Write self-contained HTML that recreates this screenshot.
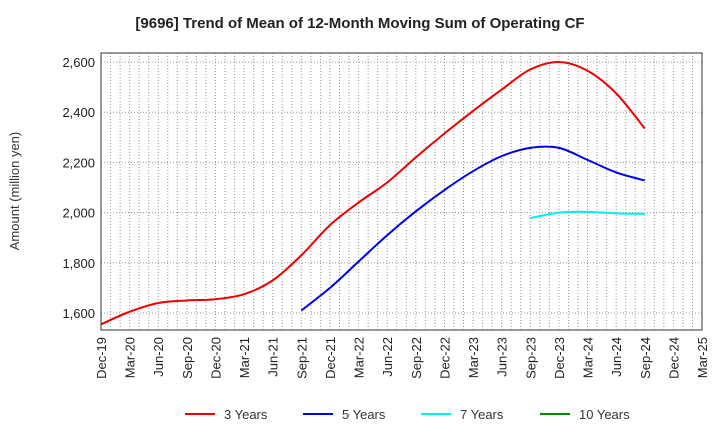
<!DOCTYPE html>
<html><head><meta charset="utf-8"><style>
body{margin:0;background:#fff;font-family:"Liberation Sans",sans-serif}
</style></head><body>
<svg id="c" width="720" height="440" viewBox="0 0 720 440" xmlns="http://www.w3.org/2000/svg" font-family="Liberation Sans, sans-serif">
<text x="360" y="28" text-anchor="middle" font-size="15" font-weight="bold" fill="#222">[9696]  Trend of Mean of 12-Month Moving Sum of Operating CF</text>
<text transform="translate(19,191) rotate(-90)" text-anchor="middle" font-size="13" fill="#333">Amount (million yen)</text>
<g id="grid"></g><g id="axes"></g><g id="series"></g><g id="legend"></g>
</svg>
<script>
const xLabels=["Dec-19","Mar-20","Jun-20","Sep-20","Dec-20","Mar-21","Jun-21","Sep-21","Dec-21","Mar-22","Jun-22","Sep-22","Dec-22","Mar-23","Jun-23","Sep-23","Dec-23","Mar-24","Jun-24","Sep-24","Dec-24","Mar-25"];
const yTicks=[1600,1800,2000,2200,2400,2600];
const s3=[1555,1605,1640,1650,1655,1675,1730,1830,1950,2040,2120,2220,2315,2405,2490,2570,2600,2565,2475,2335];
const s5=[1610,1700,1805,1910,2005,2090,2165,2225,2258,2258,2210,2160,2128];
const s5Start=7;
const s7=[1978,2000,2003,1997,1995];
const s7Start=15;
const legendNames=["3 Years","5 Years","7 Years","10 Years"];
const colors=["#ee0000","#0000ee","#00eeee","#008800"];
const L=101,R=702,T=53,B=330;
const x=i=>L+(R-L)*i/(xLabels.length-1);
const y=v=>313+(v-1600)*(62-313)/1000;
const NS="http://www.w3.org/2000/svg";
function mk(tag,attrs,parent){const e=document.createElementNS(NS,tag);for(const k in attrs)e.setAttribute(k,attrs[k]);parent.appendChild(e);return e;}
const grid=document.getElementById('grid'),axes=document.getElementById('axes'),ser=document.getElementById('series'),leg=document.getElementById('legend');
for(let m=1;m<(xLabels.length-1)*3;m++){const xx=L+(R-L)*m/((xLabels.length-1)*3);
const g=mk('line',{x1:xx,x2:xx,y1:T,y2:B,stroke:'#999','stroke-dasharray':'1,2','stroke-width':1},grid);
}
yTicks.forEach(v=>{const g=mk('line',{x1:L,x2:R,y1:y(v),y2:y(v),stroke:'#999','stroke-dasharray':'1,2'},grid);

const t=mk('text',{x:L-6,y:y(v)+5,'text-anchor':'end','font-size':13,fill:'#222'},axes);t.textContent=v.toLocaleString('en-US');
});
xLabels.forEach((lb,i)=>{const t=mk('text',{transform:`translate(${x(i)+5},${B+7}) rotate(-90)`,'text-anchor':'end','font-size':13,fill:'#222'},axes);t.textContent=lb;
});
const fr=mk('rect',{x:L,y:T,width:R-L,height:B-T,fill:'none',stroke:'#333','stroke-width':1},axes);

function path(vals,start){const p=vals.map((v,i)=>[x(start+i),y(v)]);let d=`M${p[0][0]},${p[0][1]}`;
for(let i=0;i<p.length-1;i++){const p0=p[Math.max(i-1,0)],p1=p[i],p2=p[i+1],p3=p[Math.min(i+2,p.length-1)];
d+=` C${p1[0]+(p2[0]-p0[0])/6},${p1[1]+(p2[1]-p0[1])/6} ${p2[0]-(p3[0]-p1[0])/6},${p2[1]-(p3[1]-p1[1])/6} ${p2[0]},${p2[1]}`;}return d;}
[[s3,0,'series-3-years'],[s5,s5Start,'series-5-years'],[s7,s7Start,'series-7-years']].forEach((s,k)=>{
const e=mk('path',{d:path(s[0],s[1]),fill:'none',stroke:colors[k],'stroke-width':2},ser);
});
const lx=[185,303,421,540];
legendNames.forEach((n,i)=>{const g=mk('g',{},leg);
mk('line',{x1:lx[i],x2:lx[i]+30,y1:414,y2:414,stroke:colors[i],'stroke-width':2},g);
const t=mk('text',{x:lx[i]+39,y:419,'font-size':13,fill:'#333'},g);t.textContent=n;});
</script>
</body></html>
